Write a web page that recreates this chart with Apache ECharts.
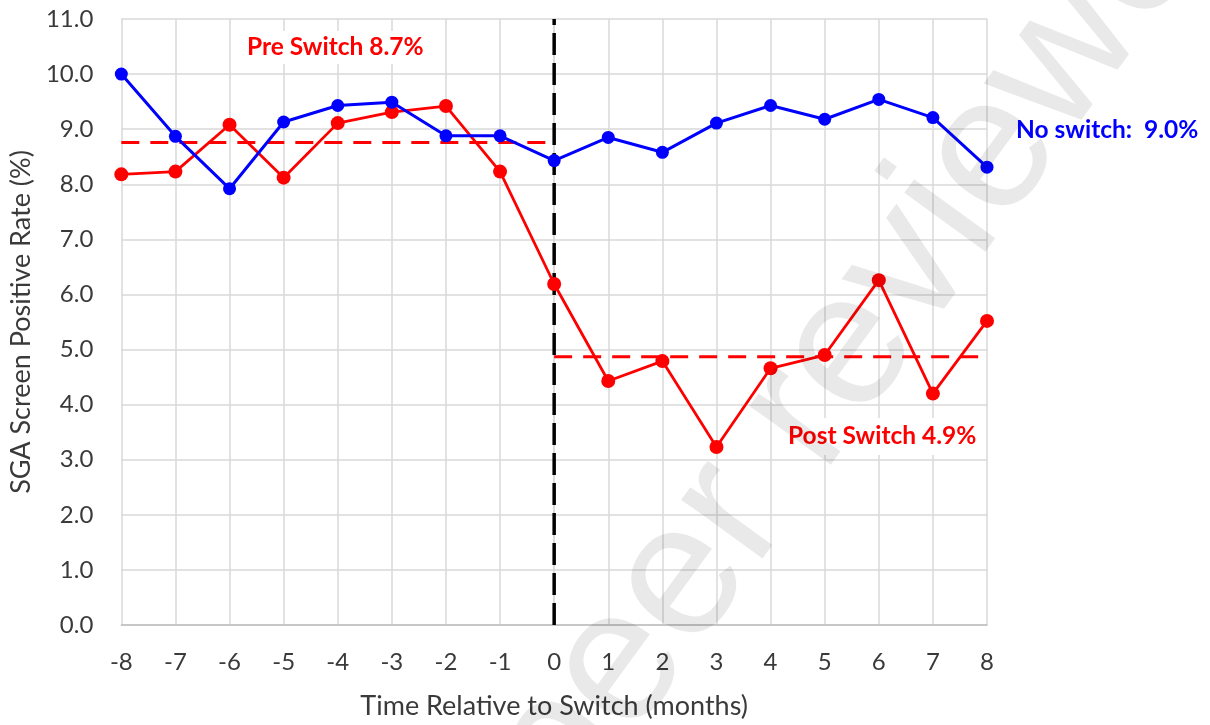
<!DOCTYPE html>
<html>
<head>
<meta charset="utf-8">
<script src="https://cdn.jsdelivr.net/npm/echarts@6/dist/echarts.min.js"></script>
<style>
html,body{margin:0;padding:0;background:#fff;}
#chart{width:1210px;height:725px;}
</style>
</head>
<body>
<div id="chart"></div>
<script>
const months = [-8,-7,-6,-5,-4,-3,-2,-1,0,1,2,3,4,5,6,7,8];
const noSwitch = [10.0,8.87,7.92,9.13,9.43,9.49,8.88,8.88,8.43,8.85,8.58,9.11,9.43,9.18,9.54,9.21,8.31];
const switched = [8.18,8.23,9.08,8.12,9.11,9.31,9.42,8.23,6.19,4.43,4.79,3.23,4.66,4.90,6.26,4.20,5.52];
const preMean = 8.76, preRange = [-8, 0];
const postMean = 4.87, postRange = [0, 8];
const switchMonth = 0;
const yTicks = {min: 0, max: 11, interval: 1};
const xTicks = {min: -8, max: 8, interval: 1};
const labels = {pre: 'Pre Switch 8.7%', post: 'Post Switch 4.9%', none: 'No switch:  9.0%'};
const axisNames = {x: 'Time Relative to Switch (months)', y: 'SGA Screen Positive Rate (%)'};
const watermark = 'peer reviewed';

const FONT = 'Lato, "Open Sans", sans-serif';
const chart = echarts.init(document.getElementById('chart'), null, {renderer: 'canvas'});
const pairs = (xs, ys) => xs.map((x, i) => [x, ys[i]]);

chart.setOption({
  animation: false,
  backgroundColor: '#ffffff',
  grid: {left: 121, right: 223, top: 19, bottom: 96},
  xAxis: {
    type: 'value', min: xTicks.min, max: xTicks.max, interval: xTicks.interval,
    axisLine: {show: true, lineStyle: {color: '#bfbfbf', width: 1.5}},
    axisTick: {show: false},
    splitLine: {show: true, lineStyle: {color: '#d9d9d9', width: 1.5}},
    axisLabel: {color: '#3a3a3a', fontFamily: FONT, fontSize: 24, margin: 25},
    name: axisNames.x, nameLocation: 'middle', nameGap: 68,
    nameTextStyle: {color: '#3a3a3a', fontFamily: FONT, fontSize: 27}
  },
  yAxis: {
    type: 'value', min: yTicks.min, max: yTicks.max, interval: yTicks.interval,
    axisLine: {show: true, lineStyle: {color: '#d9d9d9', width: 1.5}},
    axisTick: {show: false},
    splitLine: {show: true, lineStyle: {color: '#d9d9d9', width: 1.5}},
    axisLabel: {color: '#3a3a3a', fontFamily: FONT, fontSize: 24, margin: 28,
      formatter: v => v.toFixed(1)},
    name: axisNames.y, nameLocation: 'middle', nameGap: 77, nameRotate: 90,
    nameTextStyle: {color: '#3a3a3a', fontFamily: FONT, fontSize: 27}
  },
  series: [
    {
      type: 'line', z: 1, silent: true, symbol: 'none',
      data: [[switchMonth, yTicks.min], [switchMonth, yTicks.max]],
      lineStyle: {color: '#000000', width: 3.5, type: [22, 8]}
    },
    {
      type: 'line', z: 2, silent: true, symbol: 'none',
      data: [[preRange[0], preMean], [preRange[1], preMean]],
      lineStyle: {color: '#ff0000', width: 3, type: [18, 11]}
    },
    {
      type: 'line', z: 2, silent: true, symbol: 'none',
      data: [[postRange[0], postMean], [postRange[1], postMean]],
      lineStyle: {color: '#ff0000', width: 3, type: [18, 11]}
    },
    {
      type: 'line', z: 3, name: 'Switch',
      data: pairs(months, switched),
      symbol: 'circle', symbolSize: 14,
      itemStyle: {color: '#ff0000'},
      lineStyle: {color: '#ff0000', width: 2.8}
    },
    {
      type: 'line', z: 4, name: 'No switch',
      data: pairs(months, noSwitch),
      symbol: 'circle', symbolSize: 13,
      itemStyle: {color: '#0000ff'},
      lineStyle: {color: '#0000ff', width: 3}
    }
  ],
  graphic: [
    {type: 'text', left: 243, top: 31, z: 50,
      style: {text: labels.pre, fill: '#ff0000', font: 'bold 24.5px ' + FONT,
        backgroundColor: '#ffffff', padding: [4, 4]}},
    {type: 'text', left: 1016, top: 118, z: 50,
      style: {text: labels.none, fill: '#0000ff', font: 'bold 24.5px ' + FONT}},
    {type: 'text', left: 784, top: 418, z: 50,
      style: {text: labels.post, fill: '#ff0000', font: 'bold 24.5px ' + FONT,
        backgroundColor: '#ffffff', padding: [6, 4]}},
    {type: 'text', x: 526, y: 795, rotation: 54 * Math.PI / 180, z: 100, silent: true,
      style: {text: watermark, fill: 'rgba(0,0,0,0.085)', font: '190px "Liberation Sans", sans-serif',
        textAlign: 'left', textVerticalAlign: 'middle'}}
  ]
});
</script>
</body>
</html>
